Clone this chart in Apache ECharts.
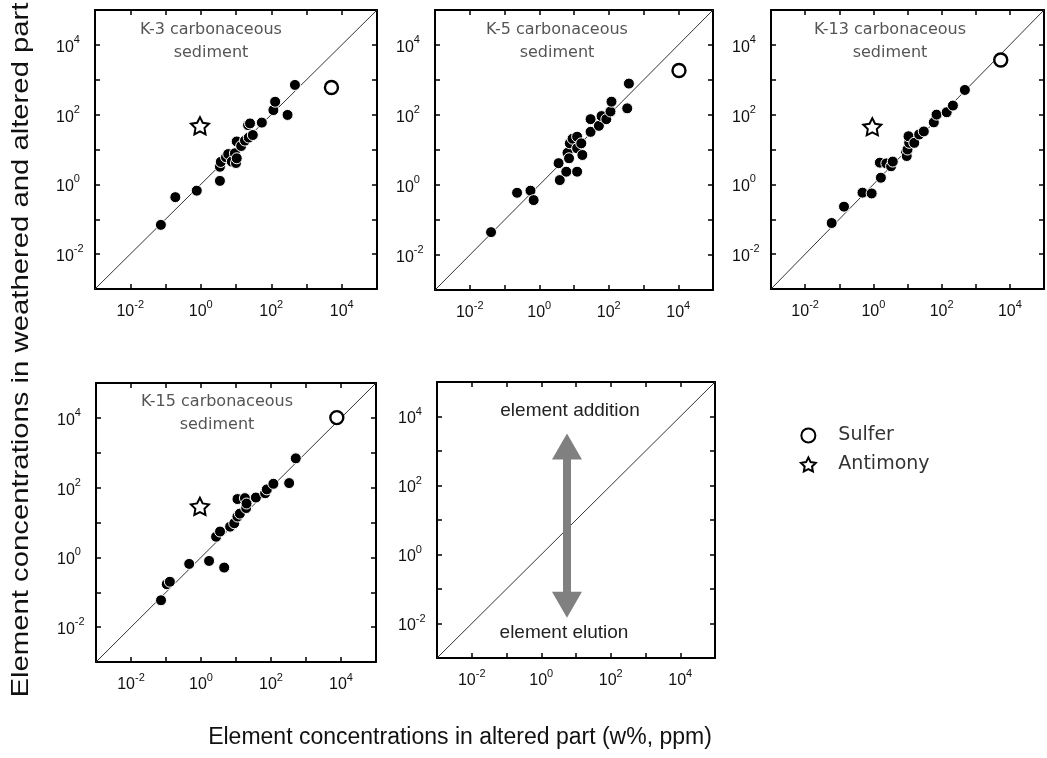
<!DOCTYPE html>
<html>
<head>
<meta charset="utf-8">
<title>Element concentrations, weathered vs altered part</title>
<script src="https://cdn.jsdelivr.net/npm/echarts@6/dist/echarts.min.js"></script>
<style>
  html, body { margin: 0; padding: 0; background: #fff; }
  #chart { width: 1047px; height: 758px; }
</style>
</head>
<body>
<div id="chart"></div>
<script>
// log axes run from 1e-3 to 1e5, labels only on even decades
const axisMin = 1e-3;
const axisMax = 1e5;
const labelExponents = [-2, 0, 2, 4];

// 1:1 line
const oneToOne = [[1e-3, 1e-3], [1e5, 1e5]];

// [altered part, weathered+altered part]
const k3Elements = [
  [0.074, 0.069], [0.19, 0.43], [0.77, 0.66], [3.5, 1.26], [3.5, 3.2], [3.7, 4.4],
  [5.2, 6.0], [6.0, 7.4], [7.6, 4.5], [9.3, 7.8], [10, 4.1], [10.5, 5.6], [10.5, 17],
  [14, 12.6], [18, 18], [23, 22], [30, 26], [22, 50], [25, 56], [54, 59],
  [115, 135], [129, 234], [290, 98], [470, 710]
];
const k3Sulfur = [[5100, 600]];
const k3Antimony = [[0.95, 48]];

const k5Elements = [
  [0.041, 0.045], [0.23, 0.60], [0.56, 0.69], [0.69, 0.37], [3.6, 4.2], [3.9, 1.38],
  [6.0, 2.4], [6.5, 8.3], [7.2, 5.8], [7.6, 15.5], [9.1, 21], [12.3, 24], [12.3, 11.2],
  [12.3, 2.4], [16.2, 15.5], [17.4, 7.2], [30, 33], [30, 76], [52, 49], [62, 93],
  [85, 76], [112, 126], [120, 240], [340, 155], [380, 790]
];
const k5Sulfur = [[10500, 1860]];
const k5Antimony = [];

const k13Elements = [
  [0.060, 0.078], [0.138, 0.23], [0.48, 0.58], [0.89, 0.55], [1.66, 1.55], [1.55, 4.2],
  [2.4, 4.0], [3.3, 3.3], [3.7, 4.5], [9.0, 8.0], [9.5, 6.5], [10, 10], [11.2, 15.5],
  [10.7, 24], [15.8, 15.5], [22, 27], [30, 33], [59, 60], [71, 100], [141, 117],
  [214, 182], [480, 510]
];
const k13Sulfur = [[5400, 3700]];
const k13Antimony = [[0.93, 45]];

const k15Elements = [
  [0.072, 0.059], [0.105, 0.17], [0.129, 0.20], [0.46, 0.65], [1.7, 0.79], [4.6, 0.51],
  [2.7, 3.9], [3.5, 5.5], [6.8, 7.6], [8.9, 9.5], [11, 14.8], [11, 47], [12.9, 18],
  [18, 50], [19.5, 26], [20, 35], [37, 52], [68, 69], [76, 89], [117, 129],
  [330, 135], [510, 690]
];
const k15Sulfur = [[7600, 10200]];
const k15Antimony = [[0.93, 29]];

const panelTitles = [
  'K-3 carbonaceous\nsediment',
  'K-5 carbonaceous\nsediment',
  'K-13 carbonaceous\nsediment',
  'K-15 carbonaceous\nsediment'
];

// schematic panel: double arrow across the 1:1 line
const arrowX = 5.5;
const arrowEnds = [1350, 0.035];

const panelData = [
  { elements: k3Elements, sulfur: k3Sulfur, antimony: k3Antimony },
  { elements: k5Elements, sulfur: k5Sulfur, antimony: k5Antimony },
  { elements: k13Elements, sulfur: k13Sulfur, antimony: k13Antimony },
  { elements: k15Elements, sulfur: k15Sulfur, antimony: k15Antimony }
];

// grid boxes, pixels
const grids = [
  { left: 95, top: 10, width: 282, height: 279 },
  { left: 435, top: 10, width: 278, height: 280 },
  { left: 771, top: 10, width: 278, height: 279 },
  { left: 96, top: 383, width: 280, height: 279 },
  { left: 437, top: 382, width: 278, height: 276 }
];
const titlePos = [[211, 41.5], [557, 41.5], [890, 41.5], [217, 413.5]];

const starPath = 'path://M100,0 L129.4,59.5 L195.1,69.1 L147.6,115.5 L158.8,180.9 L100,150 L41.2,180.9 L52.4,115.5 L4.9,69.1 L70.6,59.5 Z';
const labelFont = 'Liberation Sans, Arial, Helvetica, sans-serif';
const wideFont = 'DejaVu Sans, Verdana, sans-serif';

function tickLabel(value) {
  const e = Math.round(Math.log10(value));
  if (labelExponents.indexOf(e) < 0) return '';
  return '{b|10}{s|' + e + '}';
}

const tickRich = {
  b: { fontSize: 16, lineHeight: 21, verticalAlign: 'bottom', fontFamily: labelFont, color: '#111' },
  s: { fontSize: 11, lineHeight: 11, verticalAlign: 'top', fontFamily: labelFont, color: '#111' }
};

function logAxis(gridIndex, position, withLabels) {
  const isY = position === 'left' || position === 'right';
  return {
    type: 'log',
    logBase: 10,
    gridIndex: gridIndex,
    position: position,
    min: axisMin,
    max: axisMax,
    splitNumber: 8,
    axisLine: { show: true, onZero: false, lineStyle: { color: '#000', width: 2 } },
    axisTick: { show: true, inside: true, length: 5, lineStyle: { color: '#000', width: 1.5 } },
    axisLabel: {
      show: withLabels,
      formatter: tickLabel,
      rich: tickRich,
      margin: isY ? 39 : 10,
      align: isY ? 'left' : 'center'
    },
    splitLine: { show: false },
    minorTick: { show: false }
  };
}

const xAxes = [];
const yAxes = [];
const series = [];

grids.forEach(function (g, i) {
  xAxes.push(logAxis(i, 'bottom', true), logAxis(i, 'top', false));
  yAxes.push(logAxis(i, 'left', true), logAxis(i, 'right', false));
});

grids.forEach(function (g, i) {
  const ax = 2 * i;
  const diag = {
    type: 'line',
    name: '1:1',
    xAxisIndex: ax,
    yAxisIndex: ax,
    data: oneToOne,
    symbol: 'none',
    silent: true,
    z: 1,
    lineStyle: { color: '#333', width: 1 }
  };
  if (i === 4) {
    diag.markLine = {
      silent: true,
      symbol: ['triangle', 'triangle'],
      symbolSize: [30, 26],
      label: { show: false },
      lineStyle: { color: '#808080', width: 8, type: 'solid' },
      data: [[{ coord: [arrowX, arrowEnds[0]] }, { coord: [arrowX, arrowEnds[1]] }]]
    };
  }
  series.push(diag);
  if (i > 3) return;
  const d = panelData[i];
  series.push({
    type: 'scatter',
    name: 'Elements',
    xAxisIndex: ax,
    yAxisIndex: ax,
    data: d.elements,
    symbol: 'circle',
    symbolSize: 11,
    z: 3,
    itemStyle: { color: '#000', borderColor: '#fff', borderWidth: 1, opacity: 1 }
  });
  series.push({
    type: 'scatter',
    name: 'Sulfer',
    xAxisIndex: ax,
    yAxisIndex: ax,
    data: d.sulfur,
    symbol: 'circle',
    symbolSize: 13,
    z: 4,
    itemStyle: { color: '#fff', borderColor: '#000', borderWidth: 2.4, opacity: 1 }
  });
  series.push({
    type: 'scatter',
    name: 'Antimony',
    xAxisIndex: ax,
    yAxisIndex: ax,
    data: d.antimony,
    symbol: starPath,
    symbolSize: 18,
    symbolKeepAspect: true,
    z: 4,
    itemStyle: { color: '#fff', borderColor: '#000', borderWidth: 2, opacity: 1 }
  });
});

const graphics = [];
panelTitles.forEach(function (t, i) {
  graphics.push({
    type: 'text',
    x: titlePos[i][0],
    y: titlePos[i][1],
    silent: true,
    style: {
      text: t,
      fill: '#555',
      fontSize: 16,
      fontFamily: wideFont,
      lineHeight: 23,
      align: 'center',
      verticalAlign: 'middle'
    }
  });
});
graphics.push({
  type: 'text', x: 570, y: 411, silent: true,
  style: { text: 'element addition', fill: '#222', fontSize: 19, fontFamily: labelFont, align: 'center', verticalAlign: 'middle' }
});
graphics.push({
  type: 'text', x: 564, y: 633, silent: true,
  style: { text: 'element elution', fill: '#222', fontSize: 19, fontFamily: labelFont, align: 'center', verticalAlign: 'middle' }
});
graphics.push({
  type: 'text', x: 460, y: 738, silent: true,
  style: { text: 'Element concentrations in altered part (w%, ppm)', fill: '#111', fontSize: 23, fontFamily: labelFont, align: 'center', verticalAlign: 'middle' }
});
graphics.push({
  type: 'text', x: 21, y: 350, rotation: Math.PI / 2, scaleX: 1.22, silent: true,
  style: { text: 'Element concentrations in weathered and altered part', fill: '#111', fontSize: 24, fontFamily: labelFont, align: 'center', verticalAlign: 'middle' }
});

const chart = echarts.init(document.getElementById('chart'), null, { renderer: 'canvas' });
chart.setOption({
  backgroundColor: '#fff',
  animation: false,
  grid: grids,
  xAxis: xAxes,
  yAxis: yAxes,
  legend: {
    data: ['Sulfer', 'Antimony'],
    orient: 'vertical',
    left: 795,
    top: 421,
    itemWidth: 24,
    itemHeight: 14,
    itemGap: 10,
    selectedMode: false,
    itemStyle: { borderWidth: 2 },
    textStyle: { fontSize: 19, fontFamily: wideFont, color: '#333', padding: [0, 0, 0, 13] }
  },
  graphic: graphics,
  series: series
});
</script>
</body>
</html>
